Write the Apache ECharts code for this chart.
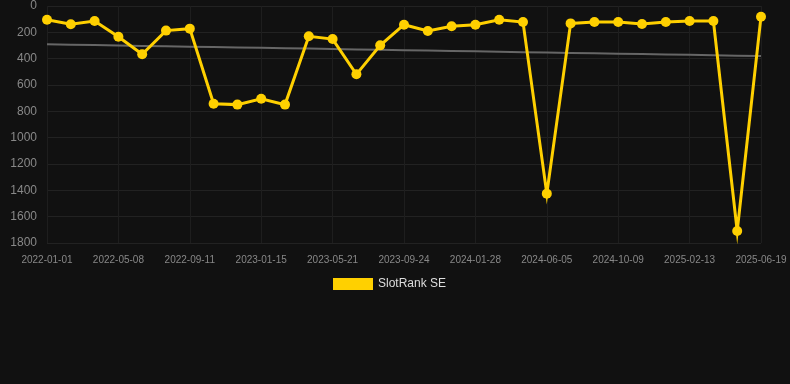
<!DOCTYPE html>
<html>
<head>
<meta charset="utf-8">
<script src="https://cdn.jsdelivr.net/npm/echarts@6/dist/echarts.min.js"></script>
<style>
  html, body { margin: 0; padding: 0; background: #111111; }
  #chart { width: 790px; height: 384px; }
</style>
</head>
<body>
<div id="chart"></div>
<script>
// dates on the x axis (every third one is labelled)
const dates = [
  '2022-01-01', '2022-02-12', '2022-03-26',
  '2022-05-08', '2022-06-19', '2022-07-31',
  '2022-09-11', '2022-10-23', '2022-12-04',
  '2023-01-15', '2023-02-26', '2023-04-09',
  '2023-05-21', '2023-07-02', '2023-08-13',
  '2023-09-24', '2023-11-05', '2023-12-17',
  '2024-01-28', '2024-03-10', '2024-04-23',
  '2024-06-05', '2024-07-17', '2024-08-28',
  '2024-10-09', '2024-11-20', '2025-01-01',
  '2025-02-13', '2025-03-27', '2025-05-08',
  '2025-06-19'
];
// rank values (lower is better, axis inverted)
const rankValues = [
  105, 139, 114, 233, 367, 187, 172, 742, 749, 704,
  749, 230, 251, 519, 299, 142, 190, 154, 142, 104,
  122, 1425, 132, 122, 122, 137, 122, 114, 114, 1709,
  81
];
// trend line end points
const trendValues = [291, 380];
const yTicks = [0, 200, 400, 600, 800, 1000, 1200, 1400, 1600, 1800];

// straight trend between first and last date
const trendData = dates.map((d, i) =>
  trendValues[0] + (trendValues[1] - trendValues[0]) * i / (dates.length - 1));

const chart = echarts.init(document.getElementById('chart'));
chart.setOption({
  backgroundColor: '#111111',
  animation: false,
  grid: { left: 47, right: 29, top: 6, bottom: 141 },
  legend: {
    top: 273,
    left: 328,
    itemWidth: 40,
    itemHeight: 12,
    itemGap: 6,
    textStyle: { color: '#dddddd', fontSize: 12, fontFamily: 'Arial, Liberation Sans, sans-serif' },
    data: [{ name: 'SlotRank SE', icon: 'rect' }]
  },
  xAxis: {
    type: 'category',
    data: dates,
    boundaryGap: false,
    axisLine: { show: false },
    axisTick: { show: false },
    axisLabel: {
      interval: 2,
      color: '#888888',
      fontSize: 10,
      margin: 12,
      fontFamily: 'Arial, Liberation Sans, sans-serif'
    },
    splitLine: { show: true, interval: 2, lineStyle: { color: '#1e1e1e', width: 1 } }
  },
  yAxis: {
    type: 'value',
    inverse: true,
    min: 0,
    max: 1800,
    interval: 200,
    axisLine: { show: false },
    axisTick: { show: false },
    axisLabel: {
      color: '#888888',
      fontSize: 12,
      margin: 10,
      fontFamily: 'Arial, Liberation Sans, sans-serif',
      formatter: v => yTicks.includes(v) ? String(v) : ''
    },
    splitLine: { lineStyle: { color: '#222222', width: 1 } }
  },
  series: [
    {
      name: 'Trend',
      type: 'line',
      data: trendData,
      symbol: 'none',
      lineStyle: { color: '#666666', width: 2 },
      z: 1,
      silent: true
    },
    {
      name: 'SlotRank SE',
      type: 'line',
      data: rankValues,
      symbol: 'circle',
      symbolSize: 10,
      itemStyle: { color: '#ffd000' },
      lineStyle: { color: '#ffd000', width: 3, join: 'miter' },
      z: 2
    }
  ]
});
</script>
</body>
</html>
